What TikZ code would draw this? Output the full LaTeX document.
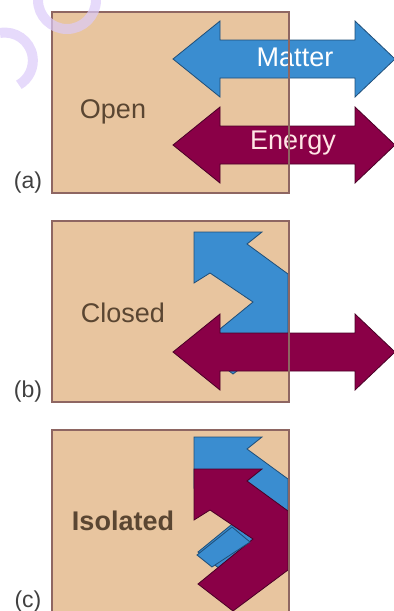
\documentclass[tikz,border=0pt]{standalone}
\usepackage{fontspec}
\setmainfont{Liberation Sans}
\definecolor{systan}{HTML}{E8C59F}
\definecolor{sysedge}{HTML}{8E6662}
\definecolor{matterblue}{HTML}{3A8DD0}
\definecolor{matteredge}{HTML}{1F4E78}
\definecolor{energyred}{HTML}{8A0047}
\definecolor{energyedge}{HTML}{4A0026}
\definecolor{namebrown}{HTML}{5A4632}
\definecolor{marklilac}{HTML}{DCCBFA}

\begin{document}
\begin{tikzpicture}[x=0.5pt,y=-0.5pt,
    sysbox/.style={fill=systan},
    syswall/.style={draw=sysedge,line width=0.8pt},
    matter/.style={fill=matterblue,draw=matteredge,line width=0.4pt},
    energy/.style={fill=energyred,draw=energyedge,line width=0.4pt},
    sysname/.style={text=namebrown,font=\fontsize{13.5}{16}\selectfont},
    tag/.style={text=black!75,font=\fontsize{11.5}{14}\selectfont},
    twoway/.pic={\path[pic actions] (0,0) -- (47,-38) -- (47,-19) -- (182,-19) -- (182,-38)
        -- (222,0) -- (182,38) -- (182,19) -- (47,19) -- (47,38) -- cycle;},
    bent/.pic={\path[pic actions] (0,0) -- (68,0) -- (53,12) -- (94,42) -- (94,101)
        -- (39,142) -- (4,115) -- (59,70) -- (16,41) -- (0,51) -- cycle;}]
  \useasboundingbox (0,0) rectangle (394,611);
  % boxes
  \fill[sysbox] (52,12) rectangle (289,193);
  \fill[sysbox] (52,221) rectangle (289,402);
  \fill[sysbox] (52,430) rectangle (289,616);
  % (a) open
  \pic[matter] at (173,59) {twoway};
  \pic[energy] at (173,145) {twoway};
  \node (matterA) at (295,57) {\color{white}\fontsize{13.5}{16}\selectfont Matter};
  \node (energyA) at (293,143) {\color{pink!40}\fontsize{13.5}{16}\selectfont Energy};
  \node[sysname] (open) at (113,112) {Open};
  \node[tag] (la) at (28,183) {(a)};
  % (b) closed
  \pic[matter] at (194,232) {bent};
  \pic[energy] at (173,352) {twoway};
  \node[sysname] (closed) at (123,313) {Closed};
  \node[tag] (lb) at (28,392) {(b)};
  % (c) isolated
  \pic[matter] at (194,437) {bent};
  \pic[energy] at (194,469) {bent};
  \path[matter] (197,555) -- (232,527) -- (250,542) -- (212,567) -- cycle;
  \node[sysname,font=\bfseries\fontsize{13.5}{16}\selectfont] (isolated) at (123,521) {Isolated};
  \node[tag] (lc) at (28,602) {(c)};
  % walls on top
  \draw[syswall] (52,12) rectangle (289,193);
  \draw[syswall] (52,221) rectangle (289,402);
  \draw[syswall] (52,616) |- (289,430) -- (289,616);
  % watermark marks
  \draw[marklilac,opacity=0.7,line width=5pt] (0,33) arc[start angle=-100,end angle=60,radius=28];
  \draw[marklilac,opacity=0.7,line width=5pt] (38,0) arc[start angle=180,end angle=0,radius=29];
\end{tikzpicture}
\end{document}
